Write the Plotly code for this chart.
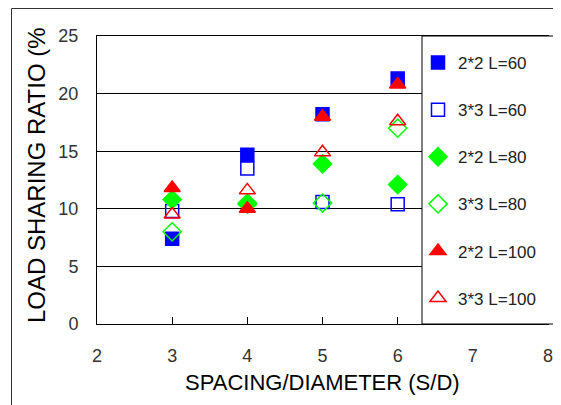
import plotly.graph_objects as go

spacing = [3, 4, 5, 6]
series_names = ["2*2 L=60", "3*3 L=60", "2*2 L=80", "3*3 L=80", "2*2 L=100", "3*3 L=100"]
s_2x2_L60 = [7.4, 14.7, 18.2, 21.3]
s_3x3_L60 = [9.8, 13.5, 10.6, 10.4]
s_2x2_L80 = [10.8, 10.4, 13.9, 12.1]
s_3x3_L80 = [8.0, 10.5, 10.5, 17.0]
s_2x2_L100 = [11.8, 10.0, 18.0, 20.8]
s_3x3_L100 = [9.5, 11.6, 14.9, 17.6]
y_ticks = [0, 5, 10, 15, 20, 25]
x_ticks = [2, 3, 4, 5, 6, 7, 8]

series_values = [s_2x2_L60, s_3x3_L60, s_2x2_L80, s_3x3_L80, s_2x2_L100, s_3x3_L100]
symbols = ["square", "square-open", "diamond", "diamond-open", "triangle-up", "triangle-up-open"]
colors = ["#0000FF", "#0000FF", "#00FF00", "#00FF00", "#FF0000", "#FF0000"]
sizes = [13, 13, 14, 14, 14, 14]

FONT = "Liberation Sans"

fig = go.Figure()
for i, (name, vals) in enumerate(zip(series_names, series_values)):
    fig.add_trace(go.Scatter(
        x=spacing, y=vals, mode="markers", name=name,
        legendgroup=f"g{i}",
        marker=dict(symbol=symbols[i], color=colors[i], size=sizes[i],
                    line=dict(color=colors[i], width=1.5)),
    ))

# the page body adds an 8px margin, so the figure is 8px smaller than the window
OFF = 8
W, H = 561 - OFF, 405 - OFF
# plot area in window pixels: x 97..548, y 36..324
L = 97 - OFF
T = 36 - OFF
R = W - (548 - OFF)
B = H - (324 - OFF)
pw, ph = W - L - R, H - T - B

def px2paper_x(px):
    return (px - OFF - L) / pw

def px2paper_y(py):
    return (H - B - (py - OFF)) / ph

fig.update_layout(
    width=W, height=H,
    margin=dict(l=L, r=R, t=T, b=B, autoexpand=False),
    paper_bgcolor="white", plot_bgcolor="white",
    font=dict(family=FONT, color="#333333"),
    showlegend=True,
    legend=dict(
        x=px2paper_x(418), xanchor="left",
        y=px2paper_y(45), yanchor="top",
        bgcolor="rgba(0,0,0,0)", borderwidth=0,
        font=dict(family=FONT, size=17, color="#222222"),
        tracegroupgap=22,
        itemsizing="trace",
    ),
    xaxis=dict(
        range=[2, 8], tickvals=x_ticks, ticktext=[str(v) for v in x_ticks],
        showgrid=False, zeroline=False,
        showline=True, linecolor="black", linewidth=1, mirror=True,
        ticks="inside", ticklen=7, tickcolor="black", tickwidth=1,
        tickfont=dict(family=FONT, size=18, color="#333333"),
        ticklabelstandoff=15,
    ),
    yaxis=dict(
        range=[0, 25], tickvals=y_ticks, ticktext=[str(v) for v in y_ticks],
        showgrid=True, gridcolor="black", gridwidth=1, zeroline=False,
        showline=True, linecolor="black", linewidth=1, mirror=True,
        ticks="inside", ticklen=7, tickcolor="black", tickwidth=1,
        tickfont=dict(family=FONT, size=18, color="#333333"),
        ticklabelstandoff=14,
    ),
    shapes=[
        # outer frame (only left and top edges fall inside the picture)
        dict(type="rect", xref="paper", yref="paper",
             x0=px2paper_x(11.5), x1=px2paper_x(580),
             y0=px2paper_y(430), y1=px2paper_y(8.5),
             line=dict(color="#333333", width=1), fillcolor="rgba(0,0,0,0)",
             layer="below"),
        # legend box
        dict(type="rect", xref="paper", yref="paper",
             x0=px2paper_x(422), x1=px2paper_x(559),
             y0=0, y1=1,
             line=dict(color="black", width=1), fillcolor="white",
             layer="above"),
    ],
    annotations=[
        dict(text="LOAD SHARING RATIO (%", xref="paper", yref="paper",
             x=px2paper_x(36), y=px2paper_y(175), xanchor="center", yanchor="middle",
             textangle=-90, showarrow=False,
             font=dict(family=FONT, size=24, color="black")),
        dict(text="SPACING/DIAMETER (S/D)", xref="paper", yref="paper",
             x=px2paper_x(322), y=px2paper_y(382), xanchor="center", yanchor="middle",
             showarrow=False,
             font=dict(family=FONT, size=22, color="black")),
    ],
)

fig.write_html("out.html")
